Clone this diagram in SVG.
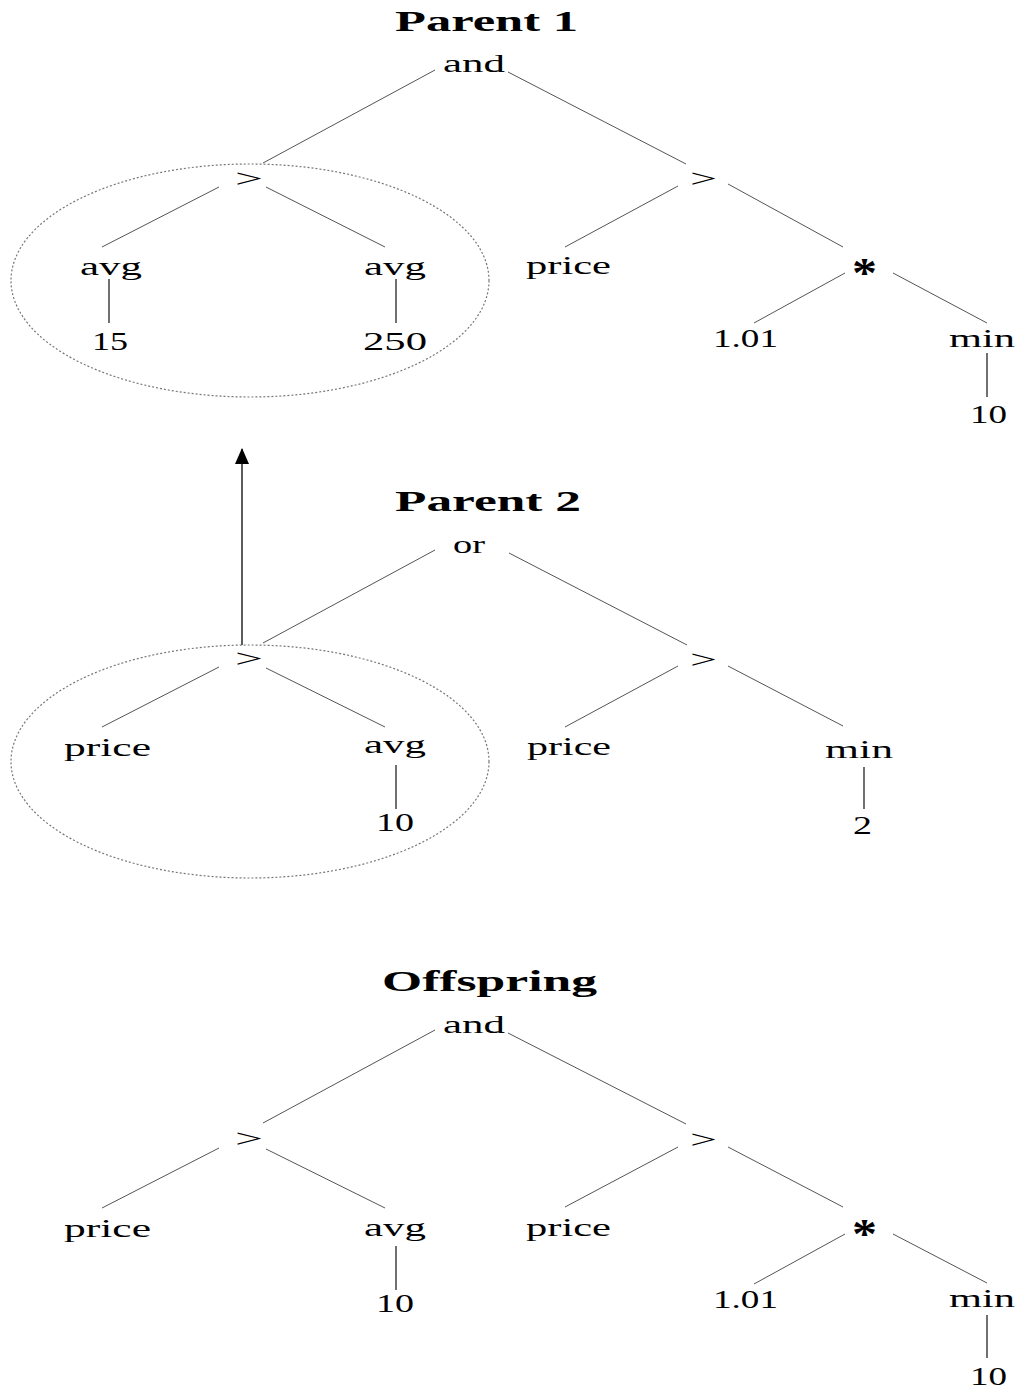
<svg xmlns="http://www.w3.org/2000/svg" width="1030" height="1389" viewBox="0 0 1030 1389">
<style>
text{font-family:"Liberation Serif","Times New Roman",serif;fill:#000;}
.t{font-size:29px;font-weight:bold;}
.n{font-size:26px;}
.g{font-size:26px;}
.s{font-size:42px;font-weight:bold;}
.e{stroke:#555;stroke-width:1;fill:none;}
.v{stroke:#111;stroke-width:1.2;fill:none;}
.sel{stroke:#777;stroke-width:1.2;fill:none;stroke-dasharray:2 2;}
.arr{stroke:#333;stroke-width:1.6;fill:none;}
</style>
<defs>
<marker id="ah" markerWidth="16" markerHeight="14" refX="15" refY="7" orient="auto" markerUnits="userSpaceOnUse" viewBox="0 0 16 14">
<polygon points="16,7 0,0 0,14" fill="#000"/>
</marker>
</defs>
<rect width="1030" height="1389" fill="#fff"/>

<g id="connectors">
<!-- Parent 1 -->
<line class="e" x1="435" y1="70" x2="263" y2="163"/>
<line class="e" x1="508" y1="72" x2="686" y2="164"/>
<line class="e" x1="219" y1="187" x2="102" y2="247"/>
<line class="e" x1="266" y1="187" x2="385" y2="247"/>
<line class="v" x1="109" y1="279" x2="109" y2="323"/>
<line class="v" x1="396" y1="279" x2="396" y2="323"/>
<line class="e" x1="678" y1="186" x2="565" y2="247"/>
<line class="e" x1="728" y1="184" x2="843" y2="247"/>
<line class="e" x1="845" y1="273" x2="754" y2="323"/>
<line class="e" x1="893" y1="273" x2="987" y2="323"/>
<line class="v" x1="987" y1="353" x2="987" y2="397"/>
<!-- Parent 2 -->
<line class="e" x1="435" y1="550" x2="263" y2="643"/>
<line class="e" x1="509" y1="553" x2="687" y2="645"/>
<line class="e" x1="219" y1="667" x2="102" y2="727"/>
<line class="e" x1="266" y1="668" x2="385" y2="727"/>
<line class="v" x1="396" y1="765" x2="396" y2="809"/>
<line class="e" x1="678" y1="666" x2="565" y2="727"/>
<line class="e" x1="728" y1="666" x2="843" y2="726"/>
<line class="v" x1="864" y1="767" x2="864" y2="809"/>
<!-- Offspring -->
<line class="e" x1="435" y1="1030" x2="263" y2="1123"/>
<line class="e" x1="508" y1="1033" x2="686" y2="1124"/>
<line class="e" x1="219" y1="1148" x2="102" y2="1208"/>
<line class="e" x1="266" y1="1149" x2="385" y2="1208"/>
<line class="v" x1="396" y1="1246" x2="396" y2="1290"/>
<line class="e" x1="678" y1="1147" x2="565" y2="1207"/>
<line class="e" x1="728" y1="1147" x2="843" y2="1207"/>
<line class="e" x1="845" y1="1234" x2="754" y2="1284"/>
<line class="e" x1="893" y1="1234" x2="987" y2="1283"/>
<line class="v" x1="987" y1="1315" x2="987" y2="1358"/>
<!-- crossover arrow -->
<line class="arr" x1="242" y1="645" x2="242" y2="449" marker-end="url(#ah)"/>
</g>

<g id="selections">
<ellipse class="sel" cx="250" cy="280.5" rx="239" ry="116.5"/>
<ellipse class="sel" cx="250" cy="761.5" rx="239" ry="116.5"/>
</g>

<g id="titles">
<text class="t" x="395" y="31" textLength="183" lengthAdjust="spacingAndGlyphs">Parent 1</text>
<text class="t" x="395" y="511" textLength="186" lengthAdjust="spacingAndGlyphs">Parent 2</text>
<text class="t" x="382" y="991" textLength="215" lengthAdjust="spacingAndGlyphs">Offspring</text>
</g>

<!-- Parent 1 nodes -->
<g id="p1-and"><text class="n" x="443" y="72" textLength="62" lengthAdjust="spacingAndGlyphs">and</text></g>
<g id="p1-gt1"><text class="g" x="235" y="187" textLength="28" lengthAdjust="spacingAndGlyphs">&gt;</text></g>
<g id="p1-avg1"><text class="n" x="80" y="275" textLength="62" lengthAdjust="spacingAndGlyphs">avg</text></g>
<g id="p1-15"><text class="n" x="92" y="350" textLength="36" lengthAdjust="spacingAndGlyphs">15</text></g>
<g id="p1-avg2"><text class="n" x="364" y="275" textLength="62" lengthAdjust="spacingAndGlyphs">avg</text></g>
<g id="p1-250"><text class="n" x="363" y="350" textLength="64" lengthAdjust="spacingAndGlyphs">250</text></g>
<g id="p1-gt2"><text class="g" x="690" y="187" textLength="27" lengthAdjust="spacingAndGlyphs">&gt;</text></g>
<g id="p1-price"><text class="n" x="526" y="274" textLength="85" lengthAdjust="spacingAndGlyphs">price</text></g>
<g id="p1-mul"><text class="s" x="852" y="287" textLength="25" lengthAdjust="spacingAndGlyphs">*</text></g>
<g id="p1-101"><text class="n" x="713" y="347" textLength="65" lengthAdjust="spacingAndGlyphs">1.01</text></g>
<g id="p1-min"><text class="n" x="949" y="347" textLength="66" lengthAdjust="spacingAndGlyphs">min</text></g>
<g id="p1-10"><text class="n" x="970" y="423" textLength="37" lengthAdjust="spacingAndGlyphs">10</text></g>

<!-- Parent 2 nodes -->
<g id="p2-or"><text class="n" x="453" y="553" textLength="32" lengthAdjust="spacingAndGlyphs">or</text></g>
<g id="p2-gt1"><text class="g" x="235" y="667" textLength="28" lengthAdjust="spacingAndGlyphs">&gt;</text></g>
<g id="p2-price1"><text class="n" x="64" y="756" textLength="87" lengthAdjust="spacingAndGlyphs">price</text></g>
<g id="p2-avg"><text class="n" x="364" y="753" textLength="62" lengthAdjust="spacingAndGlyphs">avg</text></g>
<g id="p2-10"><text class="n" x="376" y="831" textLength="38" lengthAdjust="spacingAndGlyphs">10</text></g>
<g id="p2-gt2"><text class="g" x="690" y="668" textLength="27" lengthAdjust="spacingAndGlyphs">&gt;</text></g>
<g id="p2-price2"><text class="n" x="527" y="755" textLength="84" lengthAdjust="spacingAndGlyphs">price</text></g>
<g id="p2-min"><text class="n" x="825" y="758" textLength="68" lengthAdjust="spacingAndGlyphs">min</text></g>
<g id="p2-2"><text class="n" x="853" y="834" textLength="19" lengthAdjust="spacingAndGlyphs">2</text></g>

<!-- Offspring nodes -->
<g id="o-and"><text class="n" x="443" y="1033" textLength="62" lengthAdjust="spacingAndGlyphs">and</text></g>
<g id="o-gt1"><text class="g" x="235" y="1147" textLength="28" lengthAdjust="spacingAndGlyphs">&gt;</text></g>
<g id="o-price1"><text class="n" x="64" y="1237" textLength="87" lengthAdjust="spacingAndGlyphs">price</text></g>
<g id="o-avg"><text class="n" x="364" y="1236" textLength="62" lengthAdjust="spacingAndGlyphs">avg</text></g>
<g id="o-10a"><text class="n" x="376" y="1312" textLength="38" lengthAdjust="spacingAndGlyphs">10</text></g>
<g id="o-gt2"><text class="g" x="690" y="1148" textLength="27" lengthAdjust="spacingAndGlyphs">&gt;</text></g>
<g id="o-price2"><text class="n" x="526" y="1236" textLength="85" lengthAdjust="spacingAndGlyphs">price</text></g>
<g id="o-mul"><text class="s" x="852" y="1248" textLength="25" lengthAdjust="spacingAndGlyphs">*</text></g>
<g id="o-101"><text class="n" x="713" y="1308" textLength="65" lengthAdjust="spacingAndGlyphs">1.01</text></g>
<g id="o-min"><text class="n" x="949" y="1307" textLength="66" lengthAdjust="spacingAndGlyphs">min</text></g>
<g id="o-10b"><text class="n" x="970" y="1385" textLength="37" lengthAdjust="spacingAndGlyphs">10</text></g>
</svg>
